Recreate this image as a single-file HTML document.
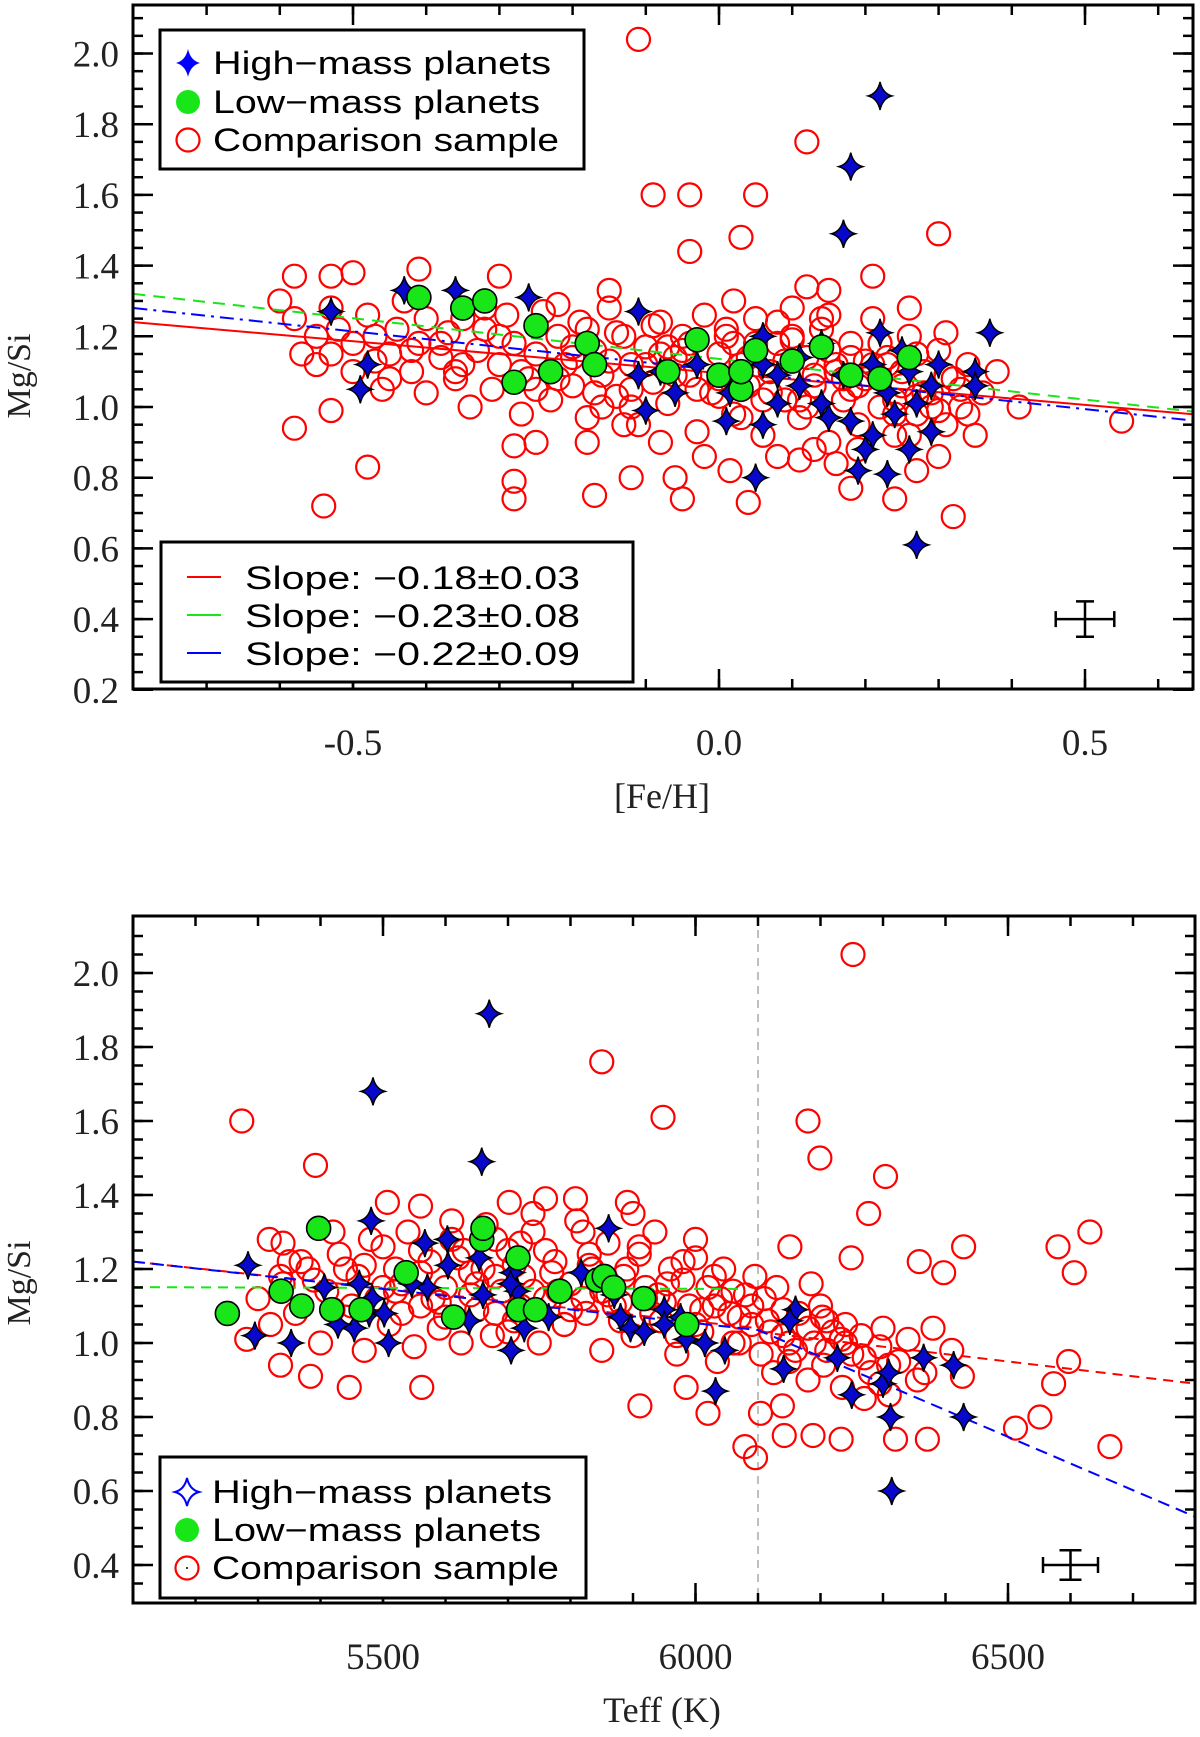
<!DOCTYPE html>
<html><head><meta charset="utf-8"><style>
html,body{margin:0;padding:0;background:#fff;}
svg{display:block;}
text{font-family:"Liberation Serif",serif;fill:#222;}
.lg{font-family:"Liberation Sans",sans-serif;font-size:32px;fill:#000;}
</style></head><body>
<svg id="chart" width="1200" height="1737" viewBox="0 0 1200 1737" xmlns="http://www.w3.org/2000/svg"></svg>
<script>
// ---------- TOP PANEL DATA: [Fe/H] vs Mg/Si ----------
const topRedFeh = [-0.11,0.12,-0.09,-0.04,0.05,-0.04,0.03,0.30,-0.58,-0.53,-0.54,-0.48,-0.28,-0.28,-0.28,-0.17,-0.12,-0.18,-0.25,-0.06,-0.05,0.015,0.04,0.11,0.18,0.24,0.32,0.27,0.55,0.41,0.35,0.31,-0.58,-0.50,-0.53,-0.41,-0.30,-0.15,-0.22,0.15,0.26,0.21,0.12,
-0.60,-0.58,-0.57,-0.55,-0.55,-0.53,-0.52,-0.50,-0.50,-0.48,-0.47,-0.46,-0.45,-0.44,-0.43,-0.42,-0.41,-0.40,-0.40,-0.38,-0.37,-0.36,-0.35,-0.34,-0.33,-0.32,-0.31,-0.30,-0.29,-0.28,-0.27,-0.26,-0.25,-0.24,-0.23,-0.22,-0.21,-0.20,-0.19,-0.18,-0.17,-0.16,-0.15,-0.14,-0.13,-0.12,-0.11,-0.10,-0.09,-0.08,-0.07,-0.06,-0.05,-0.04,-0.03,-0.02,-0.01,0.00,0.01,0.02,0.03,0.04,0.05,0.06,0.07,0.08,0.09,0.10,0.11,0.12,0.13,0.14,0.15,0.16,0.17,0.18,0.19,0.20,0.21,0.22,0.23,0.24,0.25,0.26,0.27,0.28,0.29,0.30,0.31,0.32,0.33,0.34,0.36,0.38,
-0.12,-0.08,-0.04,0.00,0.02,0.06,0.09,0.12,0.15,0.18,0.21,0.24,0.27,-0.15,-0.20,-0.25,-0.30,-0.35,-0.45,-0.53,0.19,0.13,0.16,0.26,0.08,-0.02,-0.08,-0.13,0.30,
-0.20,-0.17,-0.14,-0.10,-0.07,-0.03,0.01,0.04,0.07,0.10,0.13,0.16,0.19,0.22,0.25,0.28,0.31,-0.18,-0.12,-0.06,0.00,0.05,0.11,0.17,0.23,0.29,0.33,-0.22,-0.09,0.03,0.14,0.20,0.27,-0.16,-0.05,0.08,0.18,0.24,0.34,-0.38,-0.32,-0.42,-0.47,-0.36,-0.27,0.02,0.10,0.15,0.22,0.30];
const topRedMgsi = [2.04,1.75,1.60,1.60,1.60,1.44,1.48,1.49,0.94,0.99,0.72,0.83,0.89,0.79,0.74,0.75,0.80,0.90,0.90,0.80,0.74,0.82,0.73,0.85,0.77,0.74,0.69,0.82,0.96,1.00,0.92,1.21,1.37,1.38,1.37,1.39,1.37,1.33,1.29,1.33,1.28,1.37,1.34,
1.30,1.25,1.15,1.20,1.12,1.28,1.22,1.18,1.10,1.26,1.20,1.05,1.15,1.22,1.30,1.10,1.18,1.25,1.04,1.14,1.21,1.08,1.25,1.00,1.16,1.22,1.05,1.12,1.26,1.18,0.98,1.08,1.15,1.27,1.02,1.20,1.12,1.06,1.24,0.97,1.16,1.09,1.28,1.03,1.20,1.12,0.95,1.17,1.07,1.24,1.01,1.14,1.20,1.09,0.93,1.26,1.04,1.15,1.22,0.98,1.12,1.06,1.25,0.92,1.10,1.18,1.02,1.28,0.97,1.14,1.06,1.22,0.90,1.10,1.02,1.18,0.95,1.08,1.25,1.00,1.14,0.92,1.06,1.20,0.98,1.10,1.04,1.16,0.95,1.08,1.00,1.12,1.04,1.10,
1.05,1.15,1.18,1.08,1.18,1.02,1.13,1.00,1.16,1.05,1.12,1.02,1.15,1.13,1.17,1.05,1.20,1.12,1.08,1.15,0.88,0.88,0.84,0.92,0.86,0.86,0.90,0.95,0.86,
1.14,1.04,1.21,1.12,1.17,1.05,1.20,1.14,1.04,1.19,1.09,1.12,1.06,1.18,1.10,1.04,1.09,1.22,1.00,1.09,1.03,1.18,1.02,1.08,1.12,1.00,1.05,1.08,1.23,0.97,1.25,1.13,1.03,1.00,1.16,1.24,1.14,0.98,0.98,1.18,1.28,1.16,1.13,1.10,1.10,1.30,1.20,1.26,1.18,0.99];
const topBlueFeh = [-0.53,-0.48,-0.49,-0.43,-0.36,-0.26,-0.11,0.22,0.18,0.17,0.27,0.37,0.35,0.35,0.01,0.06,0.05,-0.10,0.20,0.21,0.19,0.23,0.26,0.29,0.27,0.24,0.18,0.15,0.14,0.11,0.08,0.06,-0.03,-0.08,-0.11,-0.06,0.015,0.08,0.17,0.21,0.26,0.23,0.29,0.30,0.25,0.22,0.06,0.11,0.14];
const topBlueMgsi = [1.27,1.12,1.05,1.33,1.33,1.31,1.27,1.88,1.68,1.49,0.61,1.21,1.10,1.06,0.96,0.95,0.80,0.99,0.88,0.92,0.82,0.81,0.88,0.93,1.01,0.98,0.96,0.97,1.01,1.06,1.09,1.12,1.12,1.10,1.09,1.04,1.04,1.01,1.09,1.12,1.10,1.04,1.06,1.12,1.16,1.21,1.20,1.14,1.18];
const topGreenFeh = [-0.41,-0.35,-0.32,-0.25,-0.28,-0.23,-0.18,-0.17,-0.07,-0.03,0.00,0.03,0.03,0.05,0.10,0.14,0.18,0.22,0.26];
const topGreenMgsi = [1.31,1.28,1.30,1.23,1.07,1.10,1.18,1.12,1.10,1.19,1.09,1.05,1.10,1.16,1.13,1.17,1.09,1.08,1.14];
const topFitSlopes = [-0.18,-0.23,-0.22];
const topFitIntercepts = [1.096,1.136,1.104];
const topFitLabels = ["Slope:  \u22120.18\u00b10.03","Slope:  \u22120.23\u00b10.08","Slope:  \u22120.22\u00b10.09"];
const topXTicks = [-0.5,0.0,0.5];
const topXTickLabels = ["-0.5","0.0","0.5"];
const topYTicks = [0.2,0.4,0.6,0.8,1.0,1.2,1.4,1.6,1.8,2.0];
const topYTickLabels = ["0.2","0.4","0.6","0.8","1.0","1.2","1.4","1.6","1.8","2.0"];

// ---------- BOTTOM PANEL DATA: Teff vs Mg/Si ----------
const botRedTeff = [5274,5392,5850,5948,6252,6180,6199,6304,6277,6249,6358,6397,6429,6580,6631,6606,6597,6573,6551,6512,6663,6371,6320,6233,6188,6142,6096,6079,6104,6139,5985,6020,5911,6203,6233,6380,6427,6410,6367,6295,6309,6185,6151,5369,5318,5336,5282,5336,5384,5446,5562,5507,5560,5702,5760,5808,5891,
5300,5320,5340,5360,5380,5400,5410,5430,5440,5460,5470,5490,5500,5510,5530,5540,5550,5560,5575,5590,5600,5610,5625,5640,5650,5665,5675,5690,5700,5710,5725,5740,5750,5760,5775,5790,5800,5810,5825,5835,5850,5860,5870,5885,5900,5910,5920,5935,5945,5955,5970,5980,5990,6000,6010,6020,6035,6045,6055,6070,6080,6095,6105,6115,6125,6140,6150,6165,6180,6190,6205,6220,6235,6250,6265,6280,6295,6310,6325,6340,6355,
5350,5450,5520,5580,5630,5680,5720,5780,5820,5880,5930,5960,6000,6030,6060,6090,6110,6130,6160,6200,6240,6270,6300,5900,5820,5740,5680,5610,5560,5480,5420,5340,
5390,5420,5470,5500,5530,5560,5590,5620,5650,5680,5710,5740,5770,5800,5830,5860,5890,5920,5950,5980,6010,6040,6070,5600,5660,5720,5790,5850,5910,5970,6030,6090,6120,6150,6180,6210,6240,6270,5640,5700,5760,5830,5880,5940,6000,6060,5520,5440,6140,6210];
const botRedMgsi = [1.60,1.48,1.76,1.61,2.05,1.60,1.50,1.45,1.35,1.23,1.22,1.19,1.26,1.26,1.30,1.19,0.95,0.89,0.80,0.77,0.72,0.74,0.74,0.74,0.75,0.75,0.69,0.72,0.81,0.83,0.88,0.81,0.83,1.07,1.01,1.04,0.91,0.98,0.92,0.89,0.94,1.16,1.26,1.22,1.28,1.18,1.01,0.94,0.91,0.88,0.88,1.38,1.37,1.38,1.39,1.39,1.38,
1.12,1.05,1.16,1.08,1.20,1.00,1.14,1.24,1.07,1.18,0.98,1.12,1.26,1.05,1.16,1.30,0.99,1.10,1.22,1.04,1.15,1.28,1.00,1.19,1.09,1.32,1.02,1.14,1.25,1.06,1.18,1.30,1.00,1.12,1.22,1.05,1.16,1.33,1.08,1.20,0.98,1.27,1.10,1.18,1.02,1.24,1.12,1.30,1.06,1.16,0.97,1.22,1.10,1.28,1.03,1.15,0.95,1.20,1.08,1.00,1.13,1.18,0.97,1.06,0.92,1.02,0.95,1.08,0.90,1.00,0.94,1.03,0.88,0.97,1.02,0.92,0.99,0.86,0.95,1.01,0.90,
1.22,1.10,1.20,1.12,1.25,1.18,1.10,1.14,1.12,1.06,1.08,1.20,1.05,1.10,1.14,1.05,1.12,1.15,0.98,1.10,1.05,0.85,1.04,1.35,1.30,1.35,1.28,1.33,1.25,1.28,1.30,1.27,
1.17,1.09,1.21,1.15,1.08,1.19,1.11,1.23,1.16,1.08,1.21,1.14,1.19,1.09,1.24,1.13,1.20,1.15,1.11,1.17,1.09,1.12,1.07,1.07,1.20,1.27,1.05,1.14,1.26,1.02,1.18,1.10,1.03,1.00,1.04,0.98,1.00,0.96,1.13,1.03,1.25,1.21,1.11,1.13,1.23,1.00,1.14,1.20,1.09,1.06];
const botBlueTeff = [5670,5484,5658,5481,6314,6312,6429,6413,6365,6300,6309,6250,6227,6141,6032,6160,6151,5284,5295,5353,5483,5478,5502,5571,5509,5604,5707,5715,5705,5638,5660,5704,5765,5726,5861,5817,5870,5880,5896,5918,5950,5976,5985,6015,6047,5950,5406,5462,5454,5428,5567,5603,5654,5546];
const botBlueMgsi = [1.89,1.68,1.49,1.33,0.60,0.80,0.80,0.94,0.96,0.89,0.92,0.86,0.96,0.93,0.87,1.09,1.06,1.21,1.02,1.00,1.12,1.08,1.08,1.15,1.00,1.21,1.19,1.14,0.98,1.06,1.13,1.16,1.07,1.04,1.31,1.19,1.13,1.07,1.04,1.03,1.09,1.07,1.01,1.00,0.98,1.05,1.15,1.16,1.04,1.05,1.27,1.28,1.23,1.16];
const botGreenTeff = [5251,5337,5370,5397,5418,5465,5537,5613,5658,5660,5716,5717,5744,5783,5843,5854,5869,5917,5986];
const botGreenMgsi = [1.08,1.14,1.10,1.31,1.09,1.09,1.19,1.07,1.28,1.31,1.23,1.09,1.09,1.14,1.17,1.18,1.15,1.12,1.05];
const botFitRedTeff = [5100,6100,6100,6800];
const botFitRedMgsi = [1.22,1.04,1.03,0.89];
const botFitGreenTeff = [5100,6080];
const botFitGreenMgsi = [1.151,1.146];
const botFitBlueTeff = [5100,6100,6800];
const botFitBlueMgsi = [1.22,1.035,0.53];
const botXTicks = [5500,6000,6500];
const botXTickLabels = ["5500","6000","6500"];
const botYTicks = [0.4,0.6,0.8,1.0,1.2,1.4,1.6,1.8,2.0];
const botYTickLabels = ["0.4","0.6","0.8","1.0","1.2","1.4","1.6","1.8","2.0"];

const NS = "http://www.w3.org/2000/svg";
const svg = document.getElementById("chart");
function el(tag, attrs, parent){const e=document.createElementNS(NS,tag);for(const k in attrs)e.setAttribute(k,attrs[k]);(parent||svg).appendChild(e);return e;}

const xTop = f => 719 + f*732;
const yTop = v => 407 - (v-1)*353.5;
const xBot = t => 1008 + (t-6500)*0.625;
const yBot = v => 1343 - (v-1)*370;
const TOP = {l:133,r:1193,t:5,b:689};
const BOT = {l:133,r:1195,t:916,b:1603};

const STAR = "M0,-14 Q2.5,-2.5 12,0 Q2.5,2.5 0,14 Q-2.5,2.5 -12,0 Q-2.5,-2.5 0,-14Z";

function drawPanel(P, name){
  const g = el("g",{});
  
  
  const clipId = name+"-clip";
  const cp = el("clipPath",{id:clipId},g); el("rect",{x:P.l,y:P.t,width:P.r-P.l,height:P.b-P.t},cp);
  const plot = el("g",{"clip-path":"url(#"+clipId+")"},g);
  
  
  return {g, plot};
}

function drawAxes(g, P, xf, yf, xMinor, xMajor, xLabels, yMinor, yMajor, yLabels, xTitle, yTitle, yTitleY, xTitleY, name){
  xMinor.forEach(v=>{const x=xf(v); if(x<P.l+2||x>P.r-2)return;
    const t1=el("line",{x1:x,y1:P.b,x2:x,y2:P.b-10,stroke:"#000","stroke-width":2.5},g);
     
    const t2=el("line",{x1:x,y1:P.t,x2:x,y2:P.t+10,stroke:"#000","stroke-width":2.5},g);
     });
  yMinor.forEach(v=>{const y=yf(v); if(y<P.t+2||y>P.b-2)return;
    const t1=el("line",{x1:P.l,y1:y,x2:P.l+10,y2:y,stroke:"#000","stroke-width":2.5},g);
     
    const t2=el("line",{x1:P.r,y1:y,x2:P.r-10,y2:y,stroke:"#000","stroke-width":2.5},g);
     });
  xMajor.forEach((v,i)=>{const x=xf(v);
    const t1=el("line",{x1:x,y1:P.b,x2:x,y2:P.b-20,stroke:"#000","stroke-width":2.5},g);
     
    const t2=el("line",{x1:x,y1:P.t,x2:x,y2:P.t+20,stroke:"#000","stroke-width":2.5},g);
     
    const tx=el("text",{x:x,y:P.b+66,"text-anchor":"middle","font-size":37},g); tx.textContent=xLabels[i];
     });
  yMajor.forEach((v,i)=>{const y=yf(v);
    const t1=el("line",{x1:P.l,y1:y,x2:P.l+20,y2:y,stroke:"#000","stroke-width":2.5},g);
     
    const t2=el("line",{x1:P.r,y1:y,x2:P.r-20,y2:y,stroke:"#000","stroke-width":2.5},g);
     
    const tx=el("text",{x:119,y:y+13,"text-anchor":"end","font-size":37},g); tx.textContent=yLabels[i];
     });
  const fr=el("rect",{x:P.l,y:P.t,width:P.r-P.l,height:P.b-P.t,fill:"none",stroke:"#000","stroke-width":3},g);
   
  const xt=el("text",{x:662,y:xTitleY,"text-anchor":"middle","font-size":36},g); xt.textContent=xTitle;
   
  const yt=el("text",{x:0,y:0,"text-anchor":"middle","font-size":34,transform:"translate(30,"+yTitleY+") rotate(-90)"},g); yt.textContent=yTitle;
   
}

function range(a,b,s){const r=[];for(let v=a;v<=b+1e-9;v+=s)r.push(Math.round(v*1000)/1000);return r;}

function drawRed(plot, xs, ys, xf, yf){
  xs.forEach((x,i)=>{const c=el("circle",{cx:xf(x),cy:yf(ys[i]),r:11.5,fill:"none",stroke:"#f00","stroke-width":2.2},plot);
     });
}
function drawBlue(plot, xs, ys, xf, yf){
  xs.forEach((x,i)=>{const p=el("path",{d:STAR,transform:"translate("+xf(x)+","+yf(ys[i])+")",fill:"#0808cc",stroke:"#000","stroke-width":1.5},plot);
     });
}
function drawGreen(plot, xs, ys, xf, yf){
  xs.forEach((x,i)=>{const c=el("circle",{cx:xf(x),cy:yf(ys[i]),r:12,fill:"#19e619",stroke:"#000","stroke-width":1.6},plot);
     });
}

// ===== TOP PANEL =====
{
  const {g, plot} = drawPanel(TOP, "feh-panel");
  drawRed(plot, topRedFeh, topRedMgsi, xTop, yTop);
  const fitCols=["#f00","#19e619","#0000ff"], fitDash=["none","12,8","14,6,3,6"], fitNames=["fit-line-comparison","fit-line-low-mass","fit-line-high-mass"];
  topFitSlopes.forEach((s,i)=>{const f0=-0.8,f1=0.65;
    const l=el("line",{x1:xTop(f0),y1:yTop(topFitIntercepts[i]+s*f0),x2:xTop(f1),y2:yTop(topFitIntercepts[i]+s*f1),stroke:fitCols[i],"stroke-width":2,"stroke-dasharray":fitDash[i]},plot);
     });
  drawBlue(plot, topBlueFeh, topBlueMgsi, xTop, yTop);
  drawGreen(plot, topGreenFeh, topGreenMgsi, xTop, yTop);
  drawAxes(g, TOP, xTop, yTop, range(-0.8,0.6,0.1), topXTicks, topXTickLabels, range(0.2,2.15,0.05), topYTicks, topYTickLabels, "[Fe/H]", "Mg/Si", 376, 808, "feh-panel");
  const eb=el("g",{stroke:"#000","stroke-width":2.5},g);
   
  el("line",{x1:xTop(0.46),y1:yTop(0.4),x2:xTop(0.54),y2:yTop(0.4)},eb);
  el("line",{x1:xTop(0.5),y1:yTop(0.35),x2:xTop(0.5),y2:yTop(0.45)},eb);
  el("line",{x1:xTop(0.46),y1:yTop(0.4)-8,x2:xTop(0.46),y2:yTop(0.4)+8},eb);
  el("line",{x1:xTop(0.54),y1:yTop(0.4)-8,x2:xTop(0.54),y2:yTop(0.4)+8},eb);
  el("line",{x1:xTop(0.5)-9,y1:yTop(0.35),x2:xTop(0.5)+9,y2:yTop(0.35)},eb);
  el("line",{x1:xTop(0.5)-9,y1:yTop(0.45),x2:xTop(0.5)+9,y2:yTop(0.45)},eb);
  const lg=el("g",{},g);  
  el("rect",{x:160,y:30,width:424,height:139,fill:"#fff",stroke:"#000","stroke-width":3},lg);
  const s1=el("path",{d:STAR,transform:"translate(188,63)",fill:"#0000ff"},lg);
   
  const c1=el("circle",{cx:188,cy:102,r:12,fill:"#19e619"},lg);
   
  const c2=el("circle",{cx:188,cy:140,r:11.5,fill:"none",stroke:"#f00","stroke-width":2.2},lg);
   
  const L1=["High\u2212mass planets","Low\u2212mass planets","Comparison sample"], LW=[338,327,346], LY=[74,113,151];
  L1.forEach((t,i)=>{const tx=el("text",{x:213,y:LY[i],class:"lg",textLength:LW[i],lengthAdjust:"spacingAndGlyphs"},lg);tx.textContent=t;
     });
  const lg2=el("g",{},g);  
  el("rect",{x:161,y:542,width:472,height:140,fill:"#fff",stroke:"#000","stroke-width":3},lg2);
  const SY=[577,615,653];
  topFitLabels.forEach((t,i)=>{
    const ln=el("line",{x1:187,y1:SY[i],x2:221,y2:SY[i],stroke:fitCols[i],"stroke-width":2},lg2);
     
    const tx=el("text",{x:245,y:SY[i]+12,class:"lg",textLength:335,lengthAdjust:"spacingAndGlyphs"},lg2);tx.textContent=t;
     });
}

// ===== BOTTOM PANEL =====
{
  const {g, plot} = drawPanel(BOT, "teff-panel");
  const vl=el("line",{x1:xBot(6100),y1:BOT.t,x2:xBot(6100),y2:BOT.b,stroke:"#aaa","stroke-width":1.5,"stroke-dasharray":"8,6"},plot);
   
  drawRed(plot, botRedTeff, botRedMgsi, xBot, yBot);
  function poly(xs,ys,col,dash,nm){
    let segs=[[]]; xs.forEach((x,i)=>{ if(i>0 && xs[i]===xs[i-1]) segs.push([]); segs[segs.length-1].push(xBot(x)+","+yBot(ys[i]));});
    segs.forEach(s=>{const p=el("polyline",{points:s.join(" "),fill:"none",stroke:col,"stroke-width":2,"stroke-dasharray":dash},plot);
       });
  }
  poly(botFitRedTeff,botFitRedMgsi,"#f00","10,7","fit-line-comparison");
  poly(botFitGreenTeff,botFitGreenMgsi,"#19e619","10,7","fit-line-low-mass");
  poly(botFitBlueTeff,botFitBlueMgsi,"#0000ff","12,7","fit-line-high-mass");
  drawBlue(plot, botBlueTeff, botBlueMgsi, xBot, yBot);
  drawGreen(plot, botGreenTeff, botGreenMgsi, xBot, yBot);
  drawAxes(g, BOT, xBot, yBot, range(5100,6700,100), botXTicks, botXTickLabels, range(0.3,2.15,0.05), botYTicks, botYTickLabels, "Teff (K)", "Mg/Si", 1283, 1722, "teff-panel");
  const eb=el("g",{stroke:"#000","stroke-width":2.5},g);
   
  el("line",{x1:xBot(6556),y1:yBot(0.4),x2:xBot(6644),y2:yBot(0.4)},eb);
  el("line",{x1:xBot(6600),y1:yBot(0.36),x2:xBot(6600),y2:yBot(0.44)},eb);
  el("line",{x1:xBot(6556),y1:yBot(0.4)-8,x2:xBot(6556),y2:yBot(0.4)+8},eb);
  el("line",{x1:xBot(6644),y1:yBot(0.4)-8,x2:xBot(6644),y2:yBot(0.4)+8},eb);
  el("line",{x1:xBot(6600)-11,y1:yBot(0.36),x2:xBot(6600)+11,y2:yBot(0.36)},eb);
  el("line",{x1:xBot(6600)-11,y1:yBot(0.44),x2:xBot(6600)+11,y2:yBot(0.44)},eb);
  const lg=el("g",{},g);  
  el("rect",{x:160,y:1457,width:426,height:141,fill:"#fff",stroke:"#000","stroke-width":3},lg);
  const s1=el("path",{d:STAR,transform:"translate(187,1492)",fill:"none",stroke:"#0000ff","stroke-width":2},lg);
   
  const c1=el("circle",{cx:187,cy:1530,r:12,fill:"#19e619"},lg);
   
  const c2=el("circle",{cx:187,cy:1568,r:11.5,fill:"none",stroke:"#f00","stroke-width":2.2},lg);
   
  const c3=el("circle",{cx:187,cy:1568,r:1,fill:"#000"},lg);
   
  const L1=["High\u2212mass planets","Low\u2212mass planets","Comparison sample"], LW=[340,329,347], LY=[1503,1541,1579];
  L1.forEach((t,i)=>{const tx=el("text",{x:212,y:LY[i],class:"lg",textLength:LW[i],lengthAdjust:"spacingAndGlyphs"},lg);tx.textContent=t;
     });
}
</script>
</body></html>
